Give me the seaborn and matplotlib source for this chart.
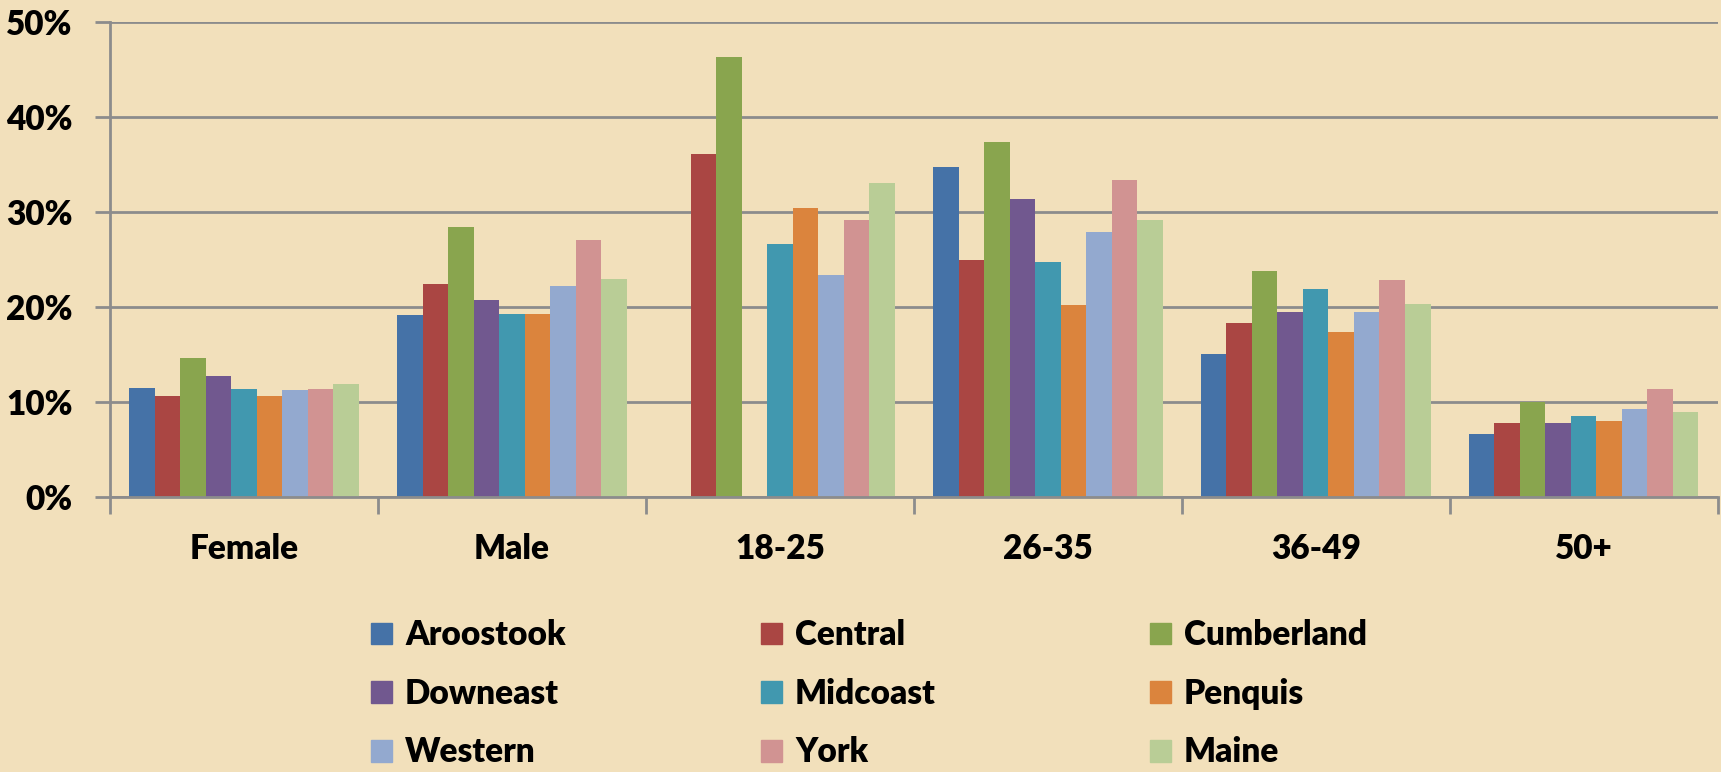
import matplotlib
matplotlib.use("Agg")
import matplotlib.pyplot as plt
import matplotlib.patches as mpatches
from matplotlib.ticker import PercentFormatter
import seaborn as sns
import numpy as np
import pandas as pd

# groups on the x axis
groups = ["Female", "Male", "18-25", "26-35", "36-49", "50+"]
regions = ["Aroostook", "Central", "Cumberland", "Downeast", "Midcoast",
           "Penquis", "Western", "York", "Maine"]

# percent per region, one value per group (nan = no bar)
aroostook = [11.5, 19.2, np.nan, 34.7, 15.1, 6.6]
central = [10.6, 22.4, 36.1, 25.0, 18.3, 7.8]
cumberland = [14.6, 28.4, 46.3, 37.4, 23.8, 10.0]
downeast = [12.8, 20.7, np.nan, 31.4, 19.5, 7.8]
midcoast = [11.4, 19.3, 26.6, 24.7, 21.9, 8.5]
penquis = [10.6, 19.3, 30.4, 20.2, 17.4, 8.0]
western = [11.3, 22.2, 23.4, 27.9, 19.5, 9.3]
york = [11.4, 27.1, 29.2, 33.4, 22.8, 11.4]
maine = [11.9, 23.0, 33.1, 29.2, 20.3, 9.0]

colors = ["#4572A7", "#AA4643", "#89A54E", "#71588F", "#4198AF",
          "#DB843D", "#93A9CF", "#D19392", "#B9CD96"]

series = [aroostook, central, cumberland, downeast, midcoast,
          penquis, western, york, maine]
rows = []
for reg, vals in zip(regions, series):
    for g, v in zip(groups, vals):
        rows.append({"group": g, "region": reg, "value": v})
df = pd.DataFrame(rows)

sns.set_style("white")
plt.rcParams["font.family"] = ["Lato", "DejaVu Sans"]
plt.rcParams["font.weight"] = "heavy"
plt.rcParams["text.color"] = "black"

bg = "#F2E0BB"
grid_c = "#8C8C8C"

fig = plt.figure(figsize=(17.21, 7.72), dpi=100, facecolor=bg)
ax = fig.add_axes([0.064, 0.356, 0.934, 0.6155])
ax.set_facecolor(bg)

sns.barplot(data=df, x="group", y="value", hue="region", order=groups,
            hue_order=regions, palette=colors, saturation=1, width=0.857,
            linewidth=0, ax=ax)

ax.set_ylim(0, 50)
ax.set_xlim(-0.5, len(groups) - 0.5)
ax.set_yticks([0, 10, 20, 30, 40, 50])
ax.yaxis.set_major_formatter(PercentFormatter(decimals=0))
ax.yaxis.grid(True, color=grid_c, linewidth=2)
ax.set_axisbelow(True)
ax.set_xlabel("")
ax.set_ylabel("")

for s in ["top", "right"]:
    ax.spines[s].set_visible(False)
for s in ["left", "bottom"]:
    ax.spines[s].set_color(grid_c)
    ax.spines[s].set_linewidth(2)

# category ticks sit at the boundaries, labels in the middle
ax.set_xticks(np.arange(len(groups) + 1) - 0.5)
ax.set_xticklabels([])
ax.set_xticks(np.arange(len(groups)), minor=True)
ax.set_xticklabels(groups, minor=True)
ax.tick_params(axis="x", which="major", length=12, width=2, color=grid_c,
               direction="out", bottom=True)
ax.tick_params(axis="x", which="minor", length=0, pad=26, labelsize=24,
               labelcolor="black")
ax.tick_params(axis="y", length=11, width=2, color=grid_c, direction="out",
               left=True, pad=16, labelsize=24, labelcolor="black")
for lab in ax.get_xticklabels(minor=True) + ax.get_yticklabels():
    lab.set_fontweight("heavy")

ax.get_legend().remove()

# legend: three columns placed by hand
handles = [mpatches.Patch(color=c, label=r) for c, r in zip(colors, regions)]
col_x = [0.2156, 0.4422, 0.6682]
for i, x in enumerate(col_x):
    fig.legend(handles=handles[i::3], loc="upper left",
               bbox_to_anchor=(x, 0.198), frameon=False, ncol=1,
               prop={"size": 24, "weight": "heavy"}, handlelength=0.63,
               handleheight=0.63, handletextpad=0.39, labelspacing=0.8,
               borderaxespad=0, borderpad=0)

fig.savefig("out.png", dpi=100, facecolor=bg)
